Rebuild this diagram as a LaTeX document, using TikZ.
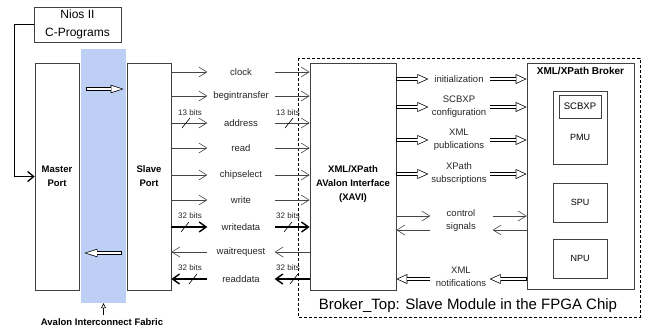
\documentclass[tikz,border=0pt]{standalone}
\usepackage{fontspec}
\setmainfont{Liberation Sans}
\usepackage{xcolor}
\definecolor{fabricblue}{RGB}{190,207,245}
\definecolor{sigline}{RGB}{70,70,70}
\usepackage{tikz}
\usetikzlibrary{arrows.meta, positioning}

\tikzset{
  blk/.style={draw=black!75, line width=0.7pt, fill=white, inner sep=0pt},
  sig/.style={draw=sigline, line width=0.6pt, -{Straight Barb[length=8pt,width=10pt]}},
  bus/.style={draw=black, line width=1.4pt, -{Straight Barb[length=7pt,width=10pt]}},
  hollow/.style={draw=white, line width=2.2pt, shorten >=1.7pt, shorten <=0.7pt,
    -{Triangle[length=8.6pt, width=7.8pt, line width=0pt, fill=white]},
    preaction={draw=black, line width=3.6pt, shorten >=0pt, shorten <=0pt,
      -{Triangle[length=11pt, width=10pt, line width=0pt, fill=black]}}},
  fabarrow/.style={draw=white, line width=2.8pt, shorten >=2pt, shorten <=0.6pt,
    -{Triangle[length=10.4pt, width=6.4pt, line width=0pt, fill=white]},
    preaction={draw=black, line width=4pt, shorten >=0pt, shorten <=0pt,
      -{Triangle[length=13pt, width=8.5pt, line width=0pt, fill=black]}}},
  siglbl/.style={font=\fontsize{9.5}{13}\selectfont, text=black!85, align=center},
  bitlbl/.style={font=\fontsize{8}{9}\selectfont, text=black!85},
  boldlbl/.style={font=\fontsize{9.5}{14}\selectfont\bfseries, align=center}
}

\begin{document}
\begin{tikzpicture}[x=1pt, y=-1pt]
  \useasboundingbox (0,0) rectangle (645,330);

  % Avalon fabric
  \node[fill=fabricblue, minimum width=45pt, minimum height=254pt, inner sep=0pt] (fabric) at (103.5,176) {};
  \node[boldlbl] (fablbl) at (102,322) {Avalon Interconnect Fabric};
  \draw[line width=0.6pt, -{Triangle[open, length=5pt, width=5pt]}] (fablbl.north -| fabric.south) -- (fabric.south);

  % Ports
  \node[blk, minimum width=44pt, minimum height=227pt] (master) at (57,176.5) {};
  \node[boldlbl] at (master.center) {Master\\Port};
  \node[blk, minimum width=44pt, minimum height=227pt] (slave) at (149,176.5) {};
  \node[boldlbl] at (slave.center) {Slave\\Port};

  \coordinate (fabin) at (86,89);
  \coordinate (fabout) at (122,253);
  \draw[fabarrow] (fabin) -- ([xshift=-3pt]fabin -| slave.west);
  \draw[fabarrow] (fabout) -- ([xshift=5pt]fabout -| master.east);

  % Nios
  \node[blk, minimum width=87pt, minimum height=35pt, font=\fontsize{12}{18}\selectfont, align=center]
       (nios) at (77.5,24.5) {Nios II\\C-Programs};
  \draw[line width=1.3pt, -{Straight Barb[length=6pt,width=10pt]}] (nios.west) -- ++(-19,0) |- (master.west);

  % Broker top frame
  \draw[dashed, line width=0.6pt, dash pattern=on 3pt off 2pt] (298,58) rectangle (640,317);
  \node[font=\fontsize{15}{18}\selectfont] at (468,306) {Broker\_Top: Slave Module in the FPGA Chip};

  % XAVI
  \node[blk, minimum width=86pt, minimum height=227pt] (xavi) at (353,176.5) {};
  \node[boldlbl] at (353,184) {XML/XPath\\AValon Interface\\(XAVI)};

  % Broker
  \node[blk, minimum width=107pt, minimum height=226pt] (broker) at (580.5,176) {};
  \node[boldlbl, font=\fontsize{10}{12}\selectfont\bfseries] at (580.5,71) {XML/XPath Broker};
  \node[blk, minimum width=54pt, minimum height=73pt] (pmu) at (580,127.5) {};
  \node[blk, minimum width=42pt, minimum height=23pt, font=\fontsize{9.5}{11}\selectfont] (scbxp) at (580,106.5) {SCBXP};
  \node[font=\fontsize{9}{11}\selectfont] at (580,137) {PMU};
  \node[blk, minimum width=54pt, minimum height=39pt, font=\fontsize{9}{11}\selectfont] (spu) at (580,202.5) {SPU};
  \node[blk, minimum width=54pt, minimum height=39pt, font=\fontsize{9}{11}\selectfont] (npu) at (580,258.5) {NPU};

  % Avalon signals
  \foreach \y/\txt in {72/clock,96/begintransfer,123/address,148/read,175/chipselect,200/write}{
    \node[siglbl] (s-\txt) at (241,\y) {\txt};
    \draw[sig] (slave.east |- s-\txt) -- ([xshift=36pt]slave.east |- s-\txt);
    \draw[sig] ([xshift=-35pt]xavi.west |- s-\txt) -- (xavi.west |- s-\txt);
  }
  \node[siglbl] (s-writedata) at (241,227) {writedata};
  \draw[bus] (slave.east |- s-writedata) -- ([xshift=36pt]slave.east |- s-writedata);
  \draw[bus] ([xshift=-35pt]xavi.west |- s-writedata) -- (xavi.west |- s-writedata);
  \node[siglbl] (s-waitrequest) at (241,252) {waitrequest};
  \draw[sig] ([xshift=36pt]slave.east |- s-waitrequest) -- (slave.east |- s-waitrequest);
  \draw[sig] (xavi.west |- s-waitrequest) -- ([xshift=-35pt]xavi.west |- s-waitrequest);
  \node[siglbl] (s-readdata) at (241,279) {readdata};
  \draw[bus] ([xshift=36pt]slave.east |- s-readdata) -- (slave.east |- s-readdata);
  \draw[bus] (xavi.west |- s-readdata) -- ([xshift=-35pt]xavi.west |- s-readdata);

  % bus widths
  \node[bitlbl] at (190,113) {13 bits};
  \node[bitlbl] at (288,113) {13 bits};
  \draw[line width=0.6pt] (182,128) -- ++(8,-10);
  \draw[line width=0.6pt] (285,128) -- ++(8,-10);
  \node[bitlbl] at (190,216) {32 bits};
  \node[bitlbl] at (288,216) {32 bits};
  \draw[line width=0.6pt] (181,232) -- ++(8,-10);
  \draw[line width=0.6pt] (284,232) -- ++(8,-10);
  \node[bitlbl] at (190,268) {32 bits};
  \node[bitlbl] at (288,268) {32 bits};
  \draw[line width=0.6pt] (189,284) -- ++(8,-10);
  \draw[line width=0.6pt] (290,284) -- ++(8,-10);

  % XAVI to broker
  \foreach \y/\nm/\txt in {79/init/initialization, 107/cfg/{SCBXP\\configuration},
                           140/pub/{XML\\publications}, 174/sub/{XPath\\subscriptions}}{
    \node[siglbl] (b-\nm) at (459,\y) {\txt};
    \draw[hollow] (xavi.east |- b-\nm) -- ([xshift=32pt]xavi.east |- b-\nm);
    \draw[hollow] ([xshift=-37pt]broker.west |- b-\nm) -- (broker.west |- b-\nm);
  }
  \node[siglbl] (b-ctrl) at (461,221) {control\\signals};
  \draw[sig] (xavi.east |- 0,216) -- ([xshift=34pt]xavi.east |- 0,216);
  \draw[sig] ([xshift=34pt]xavi.east |- 0,230) -- (xavi.east |- 0,230);
  \draw[sig] ([xshift=-34pt]broker.west |- 0,216) -- (broker.west |- 0,216);
  \draw[sig] (broker.west |- 0,230) -- ([xshift=-34pt]broker.west |- 0,230);
  \node[siglbl] (b-notif) at (461,277) {XML\\notifications};
  \draw[hollow] ([xshift=34pt]xavi.east |- 0,279) -- (xavi.east |- 0,279);
  \draw[hollow] (broker.west |- 0,279) -- ([xshift=-37pt]broker.west |- 0,279);
\end{tikzpicture}
\end{document}
